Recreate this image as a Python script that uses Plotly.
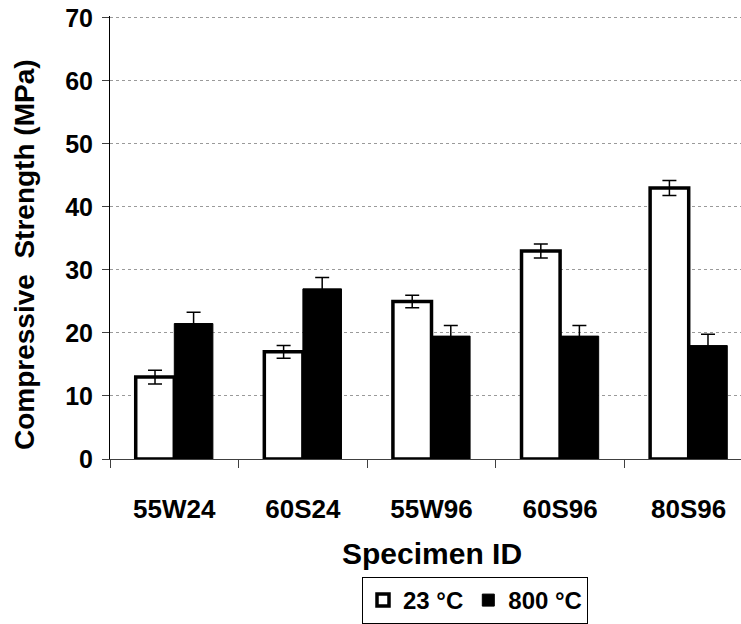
import plotly.graph_objects as go

categories = ["55W24", "60S24", "55W96", "60S96", "80S96"]
strength_23 = [13.0, 17.0, 25.0, 33.0, 43.0]
err_23 = [1.1, 1.0, 1.0, 1.1, 1.2]
strength_800 = [21.5, 27.0, 19.5, 19.5, 18.0]
err_800 = [1.8, 1.8, 1.7, 1.7, 1.8]
series_names = ["23 °C", "800 °C"]
y_ticks = [0, 10, 20, 30, 40, 50, 60, 70]

FONT = "Arial, Liberation Sans, sans-serif"
W, H = 741, 624
Y_MAX = 70.3
PPU = 441 / 70.0           # pixels per MPa
PH = round(Y_MAX * PPU)    # plot height in px
BOTTOM = 459               # page y of value 0
L, R = 110, 0
T = BOTTOM - PH
B = H - BOTTOM
pw = W - L - R

def px_x(x):  # page x -> paper fraction
    return (x - L) / pw

def px_y(y):  # page y -> paper fraction
    return (BOTTOM - y) / PH

fig = go.Figure()
fig.add_trace(go.Bar(
    name=series_names[0], x=categories, y=strength_23,
    marker=dict(color="white", line=dict(color="black", width=3.5)),
    error_y=dict(type="data", array=err_23, visible=True, color="black", thickness=1.5, width=7),
))
fig.add_trace(go.Bar(
    name=series_names[1], x=categories, y=strength_800,
    marker=dict(color="black", line=dict(color="black", width=1)),
    error_y=dict(type="data", array=err_800, visible=True, color="black", thickness=1.5, width=7),
))

fig.update_layout(
    width=W, height=H,
    margin=dict(l=L, r=R, t=T, b=B, autoexpand=False),
    paper_bgcolor="white", plot_bgcolor="white",
    barmode="group", bargap=0.4, bargroupgap=0,
    font=dict(family=FONT, size=22, color="black"),
    showlegend=True,
    legend=dict(
        orientation="h", x=px_x(362), y=px_y(577), xanchor="left", yanchor="top",
        bordercolor="black", borderwidth=1, bgcolor="white",
        font=dict(family=FONT, size=24, color="black", weight="bold"),
        itemwidth=30, tracegroupgap=0,
    ),
    xaxis=dict(
        type="category", range=[-0.5, -0.5 + pw / 128.6],
        tickson="boundaries", ticks="outside", ticklen=8, tickcolor="#404040", tickwidth=1,
        showline=True, linecolor="#404040", linewidth=1,
        showgrid=False,
        tickfont=dict(family=FONT, size=26, color="black", weight="bold"),
        ticklabelstandoff=27,
    ),
    yaxis=dict(
        range=[0, Y_MAX], tickvals=y_ticks, ticks="outside", ticklen=7,
        tickcolor="#404040", showline=True, linecolor="black", linewidth=1,
        showgrid=True, gridcolor="#9a9a9a", gridwidth=1, griddash="dot",
        zeroline=False,
        tickfont=dict(family=FONT, size=25, color="black", weight="bold"),
        ticklabelstandoff=4,
    ),
    annotations=[
        dict(text="Specimen ID", xref="paper", yref="paper", x=px_x(432), y=px_y(553),
             xanchor="center", yanchor="middle", showarrow=False,
             font=dict(family=FONT, size=30, color="black", weight="bold")),
        dict(text="Compressive&nbsp; Strength (MPa)", xref="paper", yref="paper",
             x=px_x(25), y=px_y(255), xanchor="center", yanchor="middle",
             textangle=-90, showarrow=False,
             font=dict(family=FONT, size=28, color="black", weight="bold")),
    ],
)

fig.write_html(
    "out.html",
    config={"displayModeBar": False},
    post_script="document.documentElement.style.margin='0';document.body.style.margin='0';"
                "document.body.style.overflow='hidden';",
)
